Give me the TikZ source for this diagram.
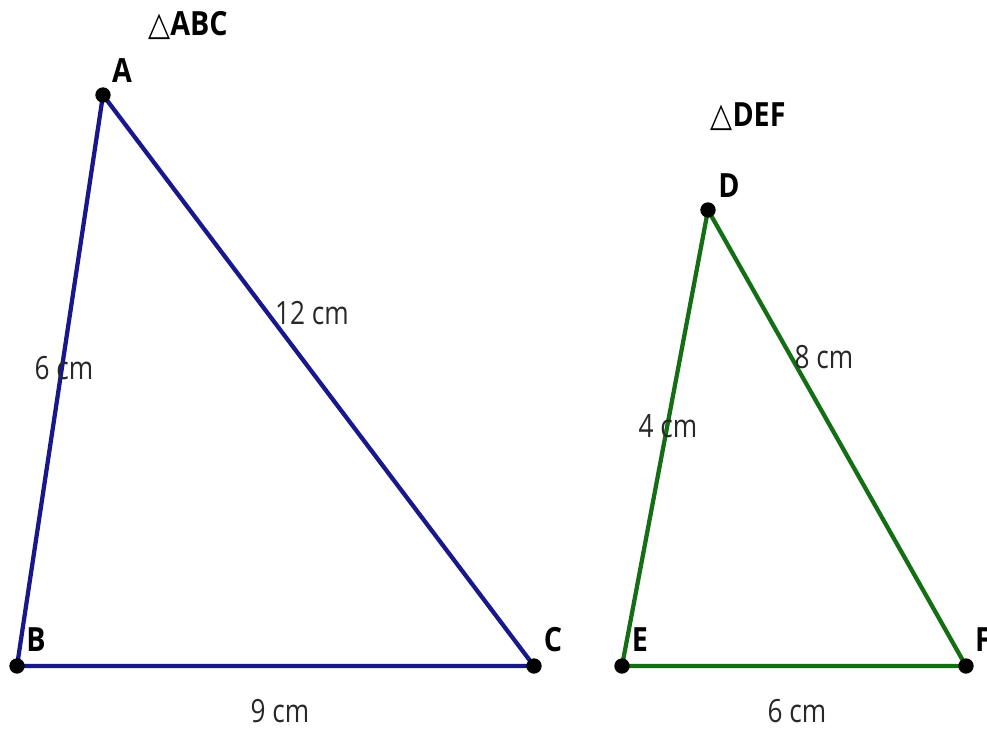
\documentclass[tikz,border=0pt]{standalone}
\usepackage{fontspec}
\setmainfont{Open Sans}
\newfontfamily\symfont{DejaVu Sans}
\definecolor{abcblue}{RGB}{24,24,140}
\definecolor{defgreen}{RGB}{20,110,20}
\definecolor{txtgray}{RGB}{40,40,40}
\begin{document}
\begin{tikzpicture}[x=0.75pt,y=-0.75pt,
  ptdot/.style={circle,fill=black,inner sep=0pt,minimum size=11.5pt},
  vlabel/.style={font=\fontsize{25}{25}\selectfont\bfseries,text=black,inner sep=0pt,xscale=0.86},
  slabel/.style={font=\fontsize{24}{24}\selectfont,text=txtgray,inner sep=0pt,xscale=0.82},
  tlabel/.style={font=\fontsize{25}{25}\selectfont\bfseries,text=black,inner sep=0pt,xscale=0.86},
  sideA/.style={abcblue,line width=3.2pt},
  sideD/.style={defgreen,line width=3.2pt}]
\useasboundingbox (0,0) rectangle (987,728);
% points
\coordinate (A) at (103,95);
\coordinate (B) at (17,666);
\coordinate (C) at (534,666);
\coordinate (D) at (708,210);
\coordinate (E) at (622,666);
\coordinate (F) at (966,666);
% sides
\draw[sideA] (A) -- (B) -- (C) -- cycle;
\draw[sideD] (D) -- (E) -- (F) -- cycle;
% dots
\node[ptdot] (pA) at (A) {};
\node[ptdot] (pB) at (B) {};
\node[ptdot] (pC) at (C) {};
\node[ptdot] (pD) at (D) {};
\node[ptdot] (pE) at (E) {};
\node[ptdot] (pF) at (F) {};
% vertex labels
\node[vlabel] (lA) at (122,71) {A};
\node[vlabel] (lB) at (36,640) {B};
\node[vlabel] (lC) at (553,640) {C};
\node[vlabel] (lD) at (729,186) {D};
\node[vlabel] (lE) at (640,640) {E};
\node[vlabel,anchor=west] (lF) at (975,640) {F};
% titles
\node[tlabel] (tABC) at (188,25) {{\symfont\fontsize{25}{25}\selectfont\mdseries △}ABC};
\node[tlabel] (tDEF) at (748,117) {{\symfont\fontsize{25}{25}\selectfont\mdseries △}DEF};
% side labels
\node[slabel] (s1) at (312,313) {12 cm};
\node[slabel] (s2) at (64,368) {6 cm};
\node[slabel] (s3) at (280,711) {9 cm};
\node[slabel] (s4) at (824,357) {8 cm};
\node[slabel] (s5) at (668,426) {4 cm};
\node[slabel] (s6) at (797,711) {6 cm};
\end{tikzpicture}
\end{document}
